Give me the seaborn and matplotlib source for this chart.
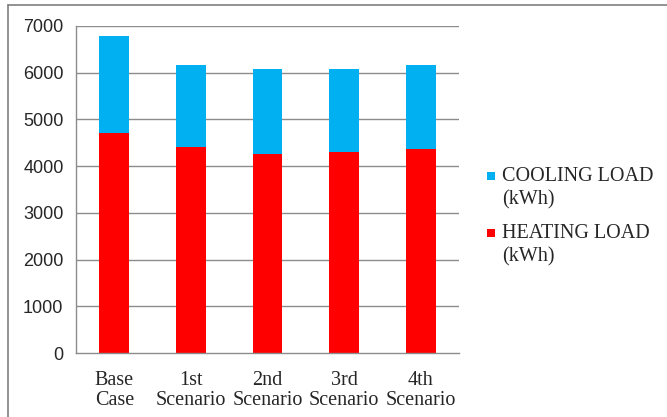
import matplotlib
matplotlib.use("Agg")
import matplotlib.pyplot as plt
from matplotlib.patches import Rectangle
from matplotlib.lines import Line2D
import seaborn as sns
import pandas as pd
import numpy as np

categories = ["Base\nCase", "1st\nScenario", "2nd\nScenario", "3rd\nScenario", "4th\nScenario"]
heating = [4710, 4410, 4260, 4310, 4360]
cooling = [2070, 1760, 1810, 1780, 1810]
yticks = [0, 1000, 2000, 3000, 4000, 5000, 6000, 7000]
legend_labels = ["COOLING LOAD\n(kWh)", "HEATING LOAD\n(kWh)"]
colors = ["#00B0F0", "#FF0000"]

sns.set_style("white")
df = pd.DataFrame({"cat": categories, "heating": heating, "cooling": cooling})
df["total"] = df["heating"] + df["cooling"]

W, H = 667, 417
fig = plt.figure(figsize=(W/100, H/100), dpi=100)
ax = fig.add_axes([76/W, 1-353/H, (459-76)/W, (353-26)/H])

grid_c = "#8c8c8c"
for v in yticks[1:]:
    ax.axhline(v, color=grid_c, lw=1.0, zorder=0)

sns.barplot(data=df, x="cat", y="total", color=colors[0], width=0.39, ax=ax,
            saturation=1, zorder=2, linewidth=0)
sns.barplot(data=df, x="cat", y="heating", color=colors[1], width=0.39, ax=ax,
            saturation=1, zorder=3, linewidth=0)

ax.set_xlim(-0.5, 4.5)
ax.set_ylim(0, 7000)
ax.set_yticks(yticks)
ax.set_yticklabels([str(v) for v in yticks], family="Liberation Sans", fontsize=13)
ax.set_xticks(range(5))
ax.set_xticklabels(categories, family="Liberation Serif", fontsize=14.5, linespacing=1.05)
ax.set_xticks(np.arange(-0.5, 5, 1), minor=True)
ax.tick_params(axis="x", which="major", length=0, pad=13)
ax.tick_params(axis="x", which="minor", length=5, color=grid_c, width=1, direction="out")
ax.tick_params(axis="y", length=5, color=grid_c, width=1, direction="out", pad=4)
ax.set_xlabel("")
ax.set_ylabel("")
for s in ["top", "right"]:
    ax.spines[s].set_visible(False)
for s in ["left", "bottom"]:
    ax.spines[s].set_color(grid_c)
    ax.spines[s].set_linewidth(1.0)
ax.spines["bottom"].set_zorder(4)

# outer frame (top and left)
fig.add_artist(Line2D([8/W, 8/W], [0, 1-5/H], transform=fig.transFigure, color="#7f7f7f", lw=1.2))
fig.add_artist(Line2D([8/W, 1], [1-5/H, 1-5/H], transform=fig.transFigure, color="#7f7f7f", lw=1.2))

# legend: small squares aligned with first text line
for lab, col, y in zip(legend_labels, colors, [177, 234]):
    fig.add_artist(Rectangle((487/W, 1-(y+3)/H), 8/W, 8/H, transform=fig.transFigure,
                             color=col, lw=0))
    fig.text(502/W, 1-(y-10)/H, lab, family="Liberation Serif", fontsize=14.5,
             va="top", ha="left", linespacing=1.3)

fig.savefig("out.png", dpi=100)
